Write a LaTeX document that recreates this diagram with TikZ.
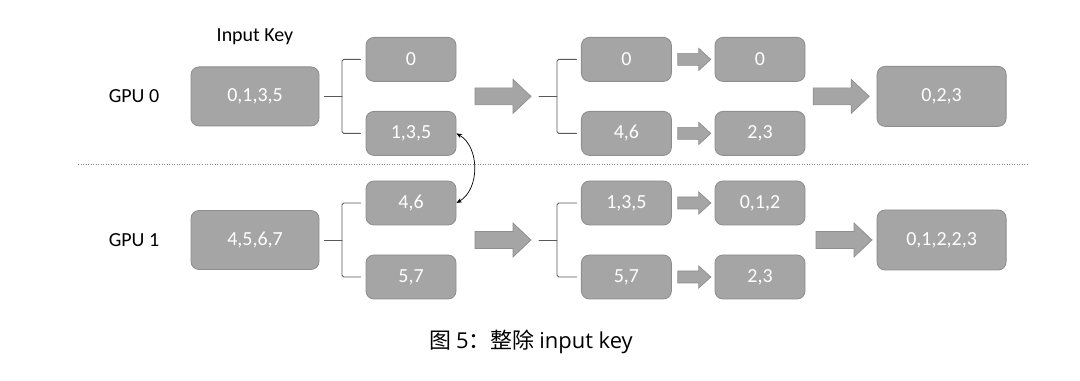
\documentclass[tikz,border=0pt]{standalone}
\usepackage{fontspec}
\setmainfont{Carlito}
\newfontfamily\cjkfont{Noto Sans CJK SC}
\newfontfamily\capfont{Open Sans}
\usetikzlibrary{calc,arrows.meta}

\definecolor{boxgray}{HTML}{A5A5A5}
\definecolor{edgegray}{HTML}{8E8E8E}
\definecolor{linegray}{HTML}{595959}
\definecolor{dotgray}{HTML}{8A8A8A}

\begin{document}
\begin{tikzpicture}[
  line cap=round,
  line join=round,
  every node/.style={font=\fontsize{14.2}{17}\selectfont},
  key/.style={draw=edgegray,fill=boxgray,line width=0.6pt,rounded corners=0.2cm,
    text=white,minimum width=2.25cm,minimum height=1.1cm,inner sep=0pt},
  bigkey/.style={key,minimum width=3.2cm,minimum height=1.475cm},
  brace/.style={draw=linegray,line width=0.6pt,rounded corners=1.2pt},
  swap/.style={{Stealth[length=4pt,width=3.2pt]}-{Stealth[length=4pt,width=3.2pt]},line width=0.5pt},
  sep/.style={draw=dotgray,line width=0.7pt,dash pattern=on 0.7pt off 1.1pt,line cap=butt},
  fatarrow/.pic={
    \draw[draw=edgegray,fill=boxgray,line width=0.5pt,line join=miter]
      (0,-0.2125) -- (0.95,-0.2125) -- (0.95,-0.425) -- (1.4,0)
      -- (0.95,0.425) -- (0.95,0.2125) -- (0,0.2125) -- cycle;},
  thinarrow/.pic={
    \draw[draw=edgegray,fill=boxgray,line width=0.5pt,line join=miter]
      (0,-0.15) -- (0.525,-0.15) -- (0.525,-0.275) -- (0.825,0)
      -- (0.525,0.275) -- (0.525,0.15) -- (0,0.15) -- cycle;}
]
\useasboundingbox (0,0) rectangle (27,9.5);

\node[anchor=base] (inputkey) at (6.375,8.45) {Input Key};

% ------------------------------------------------------------------
% GPU 0
% ------------------------------------------------------------------
\begin{scope}
  \node (gpu0) at (3.35,7.09) {GPU 0};
  \node[bigkey] (in0) at (6.375,7.09) {0,1,3,5};

  \node[key] (a0) at (10.275,8.015) {0};
  \node[key] (b0) at (10.275,6.165) {1,3,5};
  \node[key] (c0) at (15.66,8.015) {0};
  \node[key] (d0) at (15.66,6.165) {4,6};
  \node[key] (e0) at (19.0,8.015) {0};
  \node[key] (f0) at (19.0,6.165) {2,3};

  \node[bigkey,minimum width=3.225cm,minimum height=1.5cm] (out0) at (23.54,7.09) {0,2,3};

  \coordinate (s0) at (8.55,7.09);
  \draw[brace] ([xshift=0.125cm]in0.east) -- (s0);
  \draw[brace] ([xshift=-0.125cm]a0.west) -| (s0) |- ([xshift=-0.125cm]b0.west);

  \pic at (11.875,7.09) {fatarrow};

  \coordinate (t0) at (13.475,7.09);
  \coordinate (u0) at (13.925,7.09);
  \draw[brace] (t0) -- (u0);
  \draw[brace] ([xshift=-0.11cm]c0.west) -| (u0) |- ([xshift=-0.11cm]d0.west);

  \pic at (20.33,7.09) {fatarrow};
\end{scope}

% ------------------------------------------------------------------
% GPU 1
% ------------------------------------------------------------------
\begin{scope}
  \node (gpu1) at (3.35,3.5) {GPU 1};
  \node[bigkey] (in1) at (6.375,3.5) {4,5,6,7};

  \node[key] (a1) at (10.275,4.425) {4,6};
  \node[key] (b1) at (10.275,2.575) {5,7};
  \node[key] (c1) at (15.66,4.425) {1,3,5};
  \node[key] (d1) at (15.66,2.575) {5,7};
  \node[key] (e1) at (19.0,4.425) {0,1,2};
  \node[key] (f1) at (19.0,2.575) {2,3};

  \node[bigkey,minimum width=3.225cm,minimum height=1.5cm] (out1) at (23.54,3.5) {0,1,2,2,3};

  \coordinate (s1) at (8.55,3.5);
  \draw[brace] ([xshift=0.125cm]in1.east) -- (s1);
  \draw[brace] ([xshift=-0.125cm]a1.west) -| (s1) |- ([xshift=-0.125cm]b1.west);

  \pic at (11.875,3.5) {fatarrow};

  \coordinate (t1) at (13.475,3.5);
  \coordinate (u1) at (13.925,3.5);
  \draw[brace] (t1) -- (u1);
  \draw[brace] ([xshift=-0.11cm]c1.west) -| (u1) |- ([xshift=-0.11cm]d1.west);

  \pic at (20.4,3.5) {fatarrow};
\end{scope}

\foreach \n in {c0,d0,c1,d1}
  \pic at ([xshift=0.15cm]\n.east) {thinarrow};

% exchange between GPUs
\draw[swap] (b0.east) to[bend left=60] (a1.east);

\draw[sep] (1.95,5.385) -- (25.7,5.385);

\node (caption) at (13.275,0.95)
  {\fontsize{15.6}{18}\cjkfont 图 {\capfont 5}：整除 {\capfont input key}};

\end{tikzpicture}
\end{document}
